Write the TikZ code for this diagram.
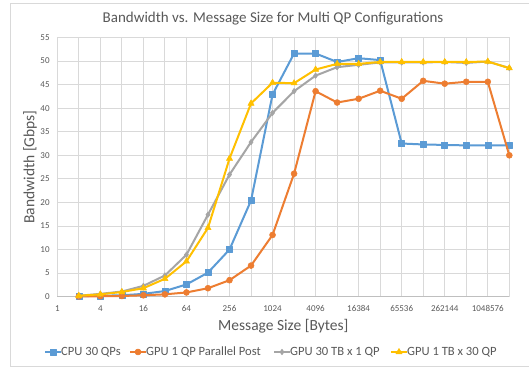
\documentclass[tikz,border=0pt]{standalone}
\usepackage{fontspec}
\setmainfont{Carlito}
\usepackage{tikz}
\usetikzlibrary{plotmarks}
\definecolor{TextGray}{HTML}{595959}
\definecolor{GridGray}{HTML}{D9D9D9}
\definecolor{AxisGray}{HTML}{BFBFBF}
\definecolor{CpuBlue}{HTML}{5B9BD5}
\definecolor{PostOrange}{HTML}{ED7D31}
\definecolor{TbGray}{HTML}{A5A5A5}
\definecolor{QpGold}{HTML}{FFC000}

\begin{document}
\begin{tikzpicture}[x=1pt,y=1pt,
    frame/.style={GridGray, line width=1pt},
    grid/.style={GridGray, line width=1pt},
    ticklabel/.style={TextGray, inner sep=0pt, font=\fontsize{9}{10}\selectfont},
    axistitle/.style={TextGray, inner sep=0pt, font=\fontsize{15.5}{18}\selectfont},
    legendtext/.style={TextGray, inner sep=0pt, anchor=west, font=\fontsize{12.6}{14}\selectfont},
    series/.style={line width=2pt, line join=round},
    cpu/.style={series, CpuBlue, mark=square*, mark size=3pt,
        mark options={solid, line width=0.5pt, fill=CpuBlue}},
    post/.style={series, PostOrange, mark=*, mark size=3pt,
        mark options={solid, line width=0.5pt, fill=PostOrange}},
    tbqp/.style={series, TbGray, mark=diamond*, mark size=2.8pt,
        mark options={solid, line width=0.5pt, fill=TbGray}},
    qptb/.style={series, QpGold, mark=triangle*, mark size=3.6pt,
        mark options={solid, line width=0.5pt, fill=QpGold}}]
    \useasboundingbox (0,0) rectangle (529,371);
    \fill[white] (0,0) rectangle (529,371);
    %%Chart border (open on the right)
    \draw[frame] (529,4.3) -- (10.7,4.3) -- (10.7,367.7) -- (529,367.7);

    \node[TextGray, font=\fontsize{15}{18}\selectfont] (charttitle) at (273,352)
        {Bandwidth vs. Message Size for Multi QP Configurations};

    %%Plot area: x = log2(size), y = Gbps
    \begin{scope}[shift={(57.3,74.3)}, x=21.524pt, y=4.713pt]
        \foreach \k in {0,...,21}
            \draw[grid] (\k,0) -- (\k,55);
        \foreach \v in {5,10,...,55}
            \draw[grid] (0,\v) -- (21,\v);
        \draw[AxisGray, line width=1pt] (0,0) -- (21,0);

        \foreach \v in {0,5,...,55}
            \node[ticklabel, anchor=east] (ytick\v) at (-0.35,\v) {\v};
        \foreach \k/\n in {0/1,2/4,4/16,6/64,8/256,10/1024,12/4096,
                           14/16384,16/65536,18/262144,20/1048576}
            \node[ticklabel] (xtick\k) at (\k,-2.6) {\n};

        %%CPU 30 QPs
        \draw[cpu] plot coordinates {(1,0.1) (2,0.2) (3,0.3) (4,0.6) (5,1.2)
            (6,2.6) (7,5.1) (8,10.0) (9,20.4) (10,42.9) (11,51.6) (12,51.6)
            (13,49.8) (14,50.6) (15,50.2) (16,32.5) (17,32.3) (18,32.2)
            (19,32.1) (20,32.1) (21,32.1)};
        %%GPU 1 QP parallel post
        \draw[post] plot coordinates {(1,0.05) (2,0.1) (3,0.15) (4,0.3) (5,0.5)
            (6,0.9) (7,1.8) (8,3.5) (9,6.6) (10,13.1) (11,26.1) (12,43.6)
            (13,41.2) (14,42.0) (15,43.7) (16,42.0) (17,45.8) (18,45.2)
            (19,45.6) (20,45.6) (21,30.0)};
        %%GPU 30 TB x 1 QP
        \draw[tbqp] plot coordinates {(1,0.2) (2,0.6) (3,1.1) (4,2.3) (5,4.5)
            (6,8.9) (7,17.4) (8,25.9) (9,32.8) (10,39.0) (11,43.6) (12,46.9)
            (13,48.7) (14,49.2) (15,49.7) (16,49.7) (17,49.7) (18,49.8)
            (19,49.6) (20,49.9) (21,48.5)};
        %%GPU 1 TB x 30 QP
        \draw[qptb] plot coordinates {(1,0.2) (2,0.5) (3,1.0) (4,1.8) (5,3.8)
            (6,7.5) (7,14.6) (8,29.3) (9,41.0) (10,45.4) (11,45.3) (12,48.2)
            (13,49.4) (14,49.4) (15,49.8) (16,49.8) (17,49.8) (18,49.8)
            (19,49.8) (20,49.9) (21,48.5)};
    \end{scope}

    \node[axistitle, rotate=90] (ytitle) at (30,204) {Bandwidth [Gbps]};
    \node[axistitle] (xtitle) at (283.3,45) {Message Size [Bytes]};

    %%Legend
    \node[legendtext] (leg-cpu) at (61,19) {CPU 30 QPs};
    \node[legendtext] (leg-post) at (146,19) {GPU 1 QP Parallel Post};
    \node[legendtext] (leg-tbqp) at (290,19) {GPU 30 TB x 1 QP};
    \node[legendtext] (leg-qptb) at (407,19) {GPU 1 TB x 30 QP};
    \draw[cpu, mark indices={2}] plot coordinates {(45,19) (53,19) (61,19)};
    \draw[post, mark indices={2}] plot coordinates {(130,19) (138,19) (146,19)};
    \draw[tbqp, mark indices={2}] plot coordinates {(274,19) (282,19) (290,19)};
    \draw[qptb, mark indices={2}] plot coordinates {(391,19) (399,19) (407,19)};
\end{tikzpicture}
\end{document}
